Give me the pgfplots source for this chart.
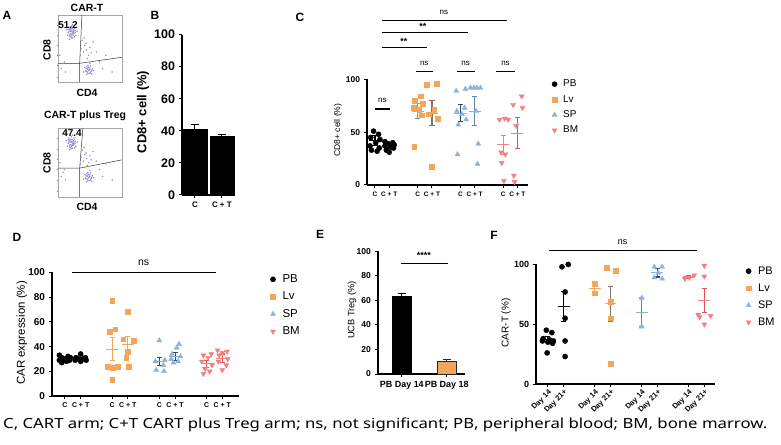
\documentclass[border=0pt]{standalone}
\usepackage{fontspec}
\setmainfont{Liberation Sans}
\newfontfamily\capfont{Noto Sans}
\usepackage{pgfplots}
\pgfplotsset{compat=1.18}

\definecolor{cLV}{HTML}{F5A55A}
\definecolor{cSP}{HTML}{8DB3DA}
\definecolor{cBM}{HTML}{F28080}
\definecolor{cNavy}{HTML}{1F4E79}
\definecolor{cSteel}{HTML}{5A86B0}
\definecolor{cTan}{HTML}{A38A6C}
\definecolor{cBrn}{HTML}{857464}
\definecolor{cRed}{HTML}{E2505A}
\definecolor{cFlow}{HTML}{8C8CD2}

\newcommand\fs[1]{\fontsize{#1}{#1}\selectfont}

\pgfplotsset{
  gp/.style={scale only axis, axis lines=left, axis line style={-, line width=1.1pt},
    tick align=outside, major tick length=3.5pt, tick style={black, line width=1pt},
    clip=false, ymin=0, ymax=100, /pgf/number format/assume math mode=true},
  flowax/.style={scale only axis, width=64pt, xmin=0, xmax=100, ymin=0, ymax=100,
    axis line style={draw=gray!70, line width=0.4pt}, tick pos=left,
    xtick={5,18,30,45,60,75,90}, ytick={8,25,40,55,70,85},
    xticklabels={}, yticklabels={}, tick align=outside, major tick length=1.5pt,
    tick style={gray, line width=0.3pt}},
  sPB/.style={only marks, mark=*, mark size=2.6pt, black},
  sLV/.style={only marks, mark=square*, mark size=2.4pt, color=cLV},
  sSP/.style={only marks, mark=triangle*, mark size=2.9pt, color=cSP},
  sBM/.style={only marks, mark=triangle*, mark size=2.9pt, color=cBM, mark options={rotate=180}},
  fdot/.style={only marks, mark=*, mark size=0.5pt, color=cFlow, mark options={draw=none, fill=cFlow}},
  leg/.style={legend style={draw=none, fill=none, anchor=north west,
    inner sep=0pt, column sep=4pt, row sep=#1}, legend cell align=left},
}

% x, mean, sem, mean colour, bar colour, half width of mean line
\newcommand\msem[6]{\addplot[forget plot, only marks, mark=-, mark size=#6,
  mark options={draw=#4, line width=1.1pt},
  error bars/.cd, y dir=both, y explicit,
  error bar style={draw=#5, line width=1.1pt},
  error mark options={draw=#5, rotate=90, mark size=2.6pt, line width=1.1pt}]
  coordinates {(#1,#2) +- (0,#3)};}

\begin{document}
\begin{tikzpicture}
\useasboundingbox (0,0) rectangle (781bp,445bp);

% panel letters
\foreach \l/\x/\y in {A/7/430, B/155/430, C/300/428, D/17/208, E/320/211, F/494/210}
  \node[font=\bfseries\fs{12}] at (\x bp,\y bp) {\l};

% ---------- A: flow plots ----------
\begin{axis}[flowax, height=67pt, at={(58bp,363bp)}, anchor=south west]
\addplot[fdot] coordinates {(18,78)(22,80)(25,76)(20,72)(24,70)(27,74)(16,74)(19,68)(23,66)(26,80)
 (21,84)(17,82)(28,70)(15,70)(22,75)(24,78)(20,76)(26,68)(18,64)(30,76)(13,78)(23,86)(19,72)(25,73)(21,69)
 (20,79)(23,73)(17,76)(25,82)(22,71)(19,80)(27,77)(21,66)(24,74)(18,70)(16,79)(22,77)
 (38,62)(42,55)(45,48)(40,45)(48,40)(44,58)(36,50)(50,52)(35,40)(46,35)(55,60)(60,45)(41,66)(52,44)
 (44,20)(48,22)(50,18)(46,15)(52,16)(43,17)(49,13)(47,25)(54,20)(45,11)(51,24)(42,22)(48,17)(53,12)
 (46,19)(50,28)(56,17)(40,15)(47,21)(49,19)(45,23)(51,14)(44,16)(50,21)(47,13)(53,18)
 (10,30)(5,20)(12,15)(8,28)(3,40)(70,20)(65,30)(75,40)(85,15)};
\addplot[black!80, line width=0.5pt] coordinates {(37.5,100)(34,28)(34,0)};
\addplot[black!80, line width=0.5pt] coordinates {(0,28)(34,28)(100,37)};
\end{axis}
\begin{axis}[flowax, height=69pt, at={(58bp,248bp)}, anchor=south west]
\addplot[fdot] coordinates {(18,82)(22,84)(25,80)(20,76)(24,75)(27,78)(16,78)(19,72)(23,71)(26,84)
 (21,88)(17,86)(28,74)(15,74)(22,79)(24,82)(20,80)(26,72)(18,69)(30,80)(13,82)(23,90)(19,76)(25,77)(21,73)
 (20,83)(23,77)(17,80)(25,86)(22,75)(19,84)(27,81)(21,70)(24,78)(18,74)(16,83)(22,81)
 (38,68)(42,62)(45,56)(40,52)(48,50)(44,64)(36,58)(50,60)(35,48)(46,46)(55,66)(60,52)(41,72)(52,54)
 (44,31)(48,33)(50,29)(46,26)(52,27)(43,28)(49,24)(47,36)(54,31)(45,22)(51,35)(42,33)(48,28)(53,23)
 (46,30)(50,39)(56,28)(40,26)(47,32)(49,30)(45,34)(51,25)(44,27)(50,32)(47,24)(53,29)
 (10,40)(5,30)(12,25)(8,36)(3,50)(70,30)(65,40)(75,48)(85,25)};
\addplot[black!80, line width=0.5pt] coordinates {(39,100)(34,42)(34,0)};
\addplot[black!80, line width=0.5pt] coordinates {(0,42)(34,42)(100,54)};
\end{axis}
\node[font=\bfseries\fs{10.5}] at (87bp,437bp) {CAR-T};
\node[font=\bfseries\fs{10.5}] at (85bp,329bp) {CAR-T plus Treg};
\node[font=\bfseries\fs{10}] at (68bp,420bp) {51.2};
\node[font=\bfseries\fs{10}] at (72bp,312bp) {47.4};
\node[font=\bfseries\fs{10.5}, rotate=90] at (47bp,395bp) {CD8};
\node[font=\bfseries\fs{10.5}, rotate=90] at (47bp,282bp) {CD8};
\node[font=\bfseries\fs{10.5}] at (87bp,352bp) {CD4};
\node[font=\bfseries\fs{10.5}] at (87bp,238bp) {CD4};

% ---------- B ----------
\begin{axis}[gp, width=53pt, height=161pt, at={(182bp,250bp)}, anchor=south west,
  xmin=-0.48, xmax=1.48, xtick={0,1}, xticklabels={C,C + T},
  ytick={0,20,...,100}, bar shift=0pt,
  yticklabel style={font=\bfseries\fs{12.5}}, xticklabel style={font=\bfseries\fs{8}}]
\addplot[ybar, bar width=24pt, fill=black, draw=black,
  error bars/.cd, y dir=plus, y explicit, error bar style={line width=1pt},
  error mark options={rotate=90, mark size=4pt, line width=1pt}] coordinates {(0,41) +- (0,3)};
\addplot[ybar, bar width=24pt, fill=black, draw=black,
  error bars/.cd, y dir=plus, y explicit, error bar style={line width=1pt},
  error mark options={rotate=90, mark size=4pt, line width=1pt}] coordinates {(1,36.5) +- (0,1.5)};
\end{axis}
\node[font=\bfseries\fs{13}, rotate=90] at (143bp,333bp) {CD8+ cell (\%)};

% ---------- C ----------
\begin{axis}[gp, width=162pt, height=106pt, at={(367bp,260bp)}, anchor=south west,
  xmin=-0.56, xmax=10.77, xtick={0,1,3,4,6,7,9,10},
  xticklabels={C,C + T,C,C + T,C,C + T,C,C + T}, ytick={0,50,100},
  yticklabel style={font=\bfseries\fs{8.5}}, xticklabel style={font=\bfseries\fs{6.5}},
  leg=3pt, legend style={at={(1.145,1.015)}, font=\fs{10}}]
\addplot[sPB] coordinates {(-0.1,51)(0.25,48)(-0.3,45)(0.35,43)(0.05,40)(-0.35,37)(0.3,35)(-0.25,33)(0.15,32)};
\addplot[sLV] coordinates {(3.2,84)(2.8,80)(3.35,77)(2.7,73)(3.1,71)(3.3,66)(2.75,36)};
\addplot[sSP] coordinates {(5.7,89)(6.35,91)(6.3,73)(5.75,70)(6.1,67)(6.4,62)(5.85,57)(5.8,29)};
\addplot[sBM] coordinates {(8.75,62)(9.1,63)(9.35,62)(8.85,31)(9.15,29)(8.9,21)(9.05,4)};
\legend{PB,Lv,SP,BM}
\addplot[sPB, forget plot] coordinates {(0.7,41)(1.25,40)(0.95,39)(1.35,38)(0.7,37)(1.1,36)(1.3,35)(0.8,33)(1.0,31)};
\addplot[sLV, forget plot] coordinates {(3.65,95)(4.35,96)(4.15,71)(3.75,67)(4.4,63)(4.0,17)};
\addplot[sSP, forget plot] coordinates {(6.7,92)(6.95,92)(7.15,92)(7.4,92)(7.1,70)(7.25,39)(7.2,20)};
\addplot[sBM, forget plot] coordinates {(10.3,84)(9.7,76)(10.35,73)(9.9,56)(9.75,9)(9.8,3)};
\msem{0}{42}{4.5}{black}{black}{6pt}
\msem{1}{37}{2}{black}{black}{6pt}
\msem{3}{70}{7}{cLV}{cTan}{6pt}
\msem{4}{68}{12}{cLV}{cBrn}{6pt}
\msem{6}{68}{8}{cSP}{cNavy}{6pt}
\msem{7}{70}{13.5}{cSP}{cSteel}{6pt}
\msem{9}{38}{9}{cBM}{cBM}{6pt}
\msem{10}{49}{14.5}{cBM}{cRed}{6pt}
% significance
\addplot[forget plot, black, line width=1.1pt] coordinates {(0,72)(1.05,72)};
\addplot[forget plot, black, line width=1.1pt] coordinates {(2.87,107.8)(4.06,107.8)};
\addplot[forget plot, black, line width=1.1pt] coordinates {(5.73,107.8)(7.0,107.8)};
\addplot[forget plot, black, line width=1.1pt] coordinates {(8.53,107.8)(9.8,107.8)};
\addplot[forget plot, black, line width=1.1pt] coordinates {(0.49,130.5)(3.64,130.5)};
\addplot[forget plot, black, line width=1.1pt] coordinates {(0.49,144.3)(6.5,144.3)};
\addplot[forget plot, black, line width=1.1pt] coordinates {(0.49,155.7)(9.3,155.7)};
\node[font=\fs{8}] at (axis cs:0.52,80) {ns};
\node[font=\fs{8}] at (axis cs:3.46,115.5) {ns};
\node[font=\fs{8}] at (axis cs:6.36,115.5) {ns};
\node[font=\fs{8}] at (axis cs:9.16,115.5) {ns};
\node[font=\bfseries\fs{9}] at (axis cs:2.03,136) {**};
\node[font=\bfseries\fs{9}] at (axis cs:3.36,150) {**};
\node[font=\fs{8}] at (axis cs:4.83,163) {ns};
\end{axis}
\node[font=\fs{8.5}, rotate=90] at (338bp,315bp) {CD8+ cell (\%)};

% ---------- D ----------
\begin{axis}[gp, width=188pt, height=124pt, at={(52bp,49bp)}, anchor=south west,
  xmin=-0.82, xmax=11.08, xtick={0,1,3,4,6,7,9,10},
  xticklabels={C,C + T,C,C + T,C,C + T,C,C + T}, ytick={0,20,...,100},
  yticklabel style={font=\bfseries\fs{10}}, xticklabel style={font=\bfseries\fs{7}},
  leg=4pt, legend style={at={(1.165,1.0)}, font=\fs{11.5}, column sep=5pt}]
\addplot[sPB] coordinates {(-0.35,33)(0.2,32)(0.35,31)(-0.2,31)(0.0,30)(-0.35,29)(0.3,29)(0.1,28)(-0.2,27)};
\addplot[sLV] coordinates {(3.0,77)(3.2,54)(2.85,52)(2.7,24)(3.35,24)(3.05,23)(3.0,13)};
\addplot[sSP] coordinates {(6.0,45)(6.35,29)(5.75,28)(6.25,25)(5.8,21)(6.3,20)};
\addplot[sBM] coordinates {(9.3,34)(8.8,33)(9.1,31)(8.7,28)(9.35,25)(8.9,22)(9.2,20)(8.8,18)};
\legend{PB,Lv,SP,BM}
\addplot[sPB, forget plot] coordinates {(1.0,34)(0.7,31)(1.3,31)(0.85,30)(1.15,30)(0.65,29)(1.35,29)(1.0,28)};
\addplot[sLV, forget plot] coordinates {(4.0,68)(3.7,46)(4.35,45)(4.0,36)(3.9,31)(4.05,24)};
\addplot[sSP, forget plot] coordinates {(7.25,42)(7.1,39)(6.8,34)(7.35,32)(6.75,30)(7.2,28)(6.9,27)};
\addplot[sBM, forget plot] coordinates {(9.7,37)(10.3,36)(10.0,35)(9.8,33)(10.35,30)(9.75,28)(10.25,25)(10.0,21)};
\msem{0}{30}{1}{black}{black}{6pt}
\msem{1}{30}{1}{black}{black}{6pt}
\msem{3}{38}{9}{cLV}{cLV}{6pt}
\msem{4}{42}{6}{cLV}{cLV}{6pt}
\msem{6}{28}{3.5}{cSP}{cNavy}{6pt}
\msem{7}{32}{3}{cSP}{cNavy}{6pt}
\msem{9}{26}{3}{cBM}{cRed}{6pt}
\msem{10}{30.5}{3.5}{cBM}{cRed}{6pt}
\addplot[forget plot, black, line width=1.3pt] coordinates {(0.44,100)(9.62,100)};
\node[font=\fs{10.5}] at (axis cs:5.0,108) {ns};
\end{axis}
\node[font=\fs{11.5}, rotate=90] at (22bp,112bp) {CAR expression (\%)};

% ---------- E ----------
\begin{axis}[gp, width=87pt, height=123pt, at={(378bp,71bp)}, anchor=south west,
  xmin=-0.53, xmax=1.4, xtick={0,1}, xticklabels={PB Day 14,PB Day 18},
  ytick={0,20,...,100}, bar shift=0pt,
  yticklabel style={font=\bfseries\fs{8.6}}, xticklabel style={font=\bfseries\fs{9}}]
\addplot[ybar, bar width=19pt, fill=black, draw=black,
  error bars/.cd, y dir=plus, y explicit, error bar style={line width=1pt},
  error mark options={rotate=90, mark size=4pt, line width=1pt}] coordinates {(0,63.5) +- (0,2.5)};
\addplot[ybar, bar width=19pt, fill=cLV, draw=black!85, line width=1pt,
  error bars/.cd, y dir=plus, y explicit, error bar style={line width=1pt, black!85},
  error mark options={rotate=90, mark size=4pt, line width=1pt, black!85}] coordinates {(1,10.5) +- (0,1.5)};
\addplot[forget plot, black, line width=1.1pt] coordinates {(-0.02,90.2)(1.02,90.2)};
\node[font=\bfseries\fs{9}] at (axis cs:0.49,97) {****};
\end{axis}
\node[font=\fs{9.3}, rotate=90] at (352bp,135bp) {UCB Treg (\%)};

% ---------- F ----------
\begin{axis}[gp, width=180pt, height=120pt, at={(536bp,61bp)}, anchor=south west,
  xmin=-0.76, xmax=10.7, xtick={0,1,3,4,6,7,9,10},
  xticklabels={Day 14,Day 21+,Day 14,Day 21+,Day 14,Day 21+,Day 14,Day 21+},
  ytick={0,50,100},
  yticklabel style={font=\bfseries\fs{9}},
  xticklabel style={font=\bfseries\fs{7.5}, rotate=45, anchor=north east, inner sep=1pt},
  leg=4pt, legend style={at={(1.17,1.0)}, font=\fs{11}, column sep=5pt}]
\addplot[sPB] coordinates {(-0.1,45)(0.25,43)(-0.3,38)(0.1,37)(0.35,36)(-0.35,36)(0.0,35)(0.3,34)(-0.05,26)};
\addplot[sLV] coordinates {(3.0,84)(3.0,76)};
\addplot[sSP] coordinates {(6.0,72)(6.0,48)};
\addplot[sBM] coordinates {(8.75,88)(9.05,89)(9.35,91)};
\legend{PB,Lv,SP,BM}
\addplot[sPB, forget plot] coordinates {(0.9,98)(1.3,100)(1.1,77)(1.1,55)(1.1,36)(1.1,23)};
\addplot[sLV, forget plot] coordinates {(3.75,97)(4.35,95)(4.0,69)(4.0,55)(4.0,17)};
\addplot[sSP, forget plot] coordinates {(6.8,98)(7.3,98)(7.05,93)(6.8,89)(7.3,88)};
\addplot[sBM, forget plot] coordinates {(10.0,99)(10.0,90)(9.6,58)(10.4,57)(9.7,56)(10.0,50)};
\msem{0}{37.5}{2}{black}{black}{6pt}
\msem{1}{65}{12.5}{black}{black}{6pt}
\msem{3}{80}{3}{cLV}{cLV}{6pt}
\msem{4}{67}{14.5}{cLV}{cBrn}{6pt}
\msem{6}{60}{12}{cSP}{cSteel}{6pt}
\msem{7}{93}{3.5}{cSP}{cNavy}{6pt}
\msem{9}{89.5}{1.5}{cBM}{cRed}{6pt}
\msem{10}{70}{10}{cBM}{cRed}{6pt}
\addplot[forget plot, black, line width=1.3pt] coordinates {(0.06,111.7)(9.5,111.7)};
\node[font=\fs{9}] at (axis cs:4.78,119) {ns};
\end{axis}
\node[font=\fs{10}, rotate=90] at (506bp,122bp) {CAR-T (\%)};

% caption
\node[anchor=west, font=\capfont\fs{14}, inner sep=0pt] at (3bp,20bp)
  {\scalebox{1.2}[1]{C, CART arm; C+T CART plus Treg arm; ns, not significant; PB, peripheral blood; BM, bone marrow.}};
\end{tikzpicture}
\end{document}
